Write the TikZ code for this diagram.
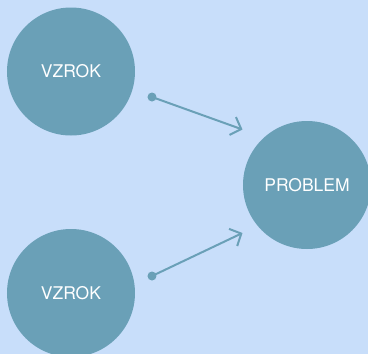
\documentclass[tikz,border=0pt]{standalone}
\usepackage{fontspec}
\setmainfont{TeX Gyre Heros}
\usetikzlibrary{arrows.meta}
\definecolor{bgc}{RGB}{200,222,250}
\definecolor{circc}{RGB}{106,160,183}
\tikzset{
  bubble/.style={circle, fill=circc, draw=none, minimum size=128pt, inner sep=0pt, text=white, font=\fontsize{17.5}{19}\selectfont},
  link/.style={draw=circc, line width=2pt, -{Straight Barb[length=9pt,width=19pt,line width=2pt]}},
  dotc/.style={fill=circc}
}
\begin{document}
\begin{tikzpicture}[x=1pt,y=-1pt]
\fill[bgc] (0,0) rectangle (368,354);
\useasboundingbox (0,0) rectangle (368,354);
\begin{scope}
\clip (0,0) rectangle (368,354);
\node[bubble] (c1) at (71,71.5) {VZROK};
\node[bubble] (c2) at (71,293) {VZROK};
\node[bubble] (p) at (307,185) {PROBLEM};
\end{scope}
\coordinate (s1) at (152,97);
\coordinate (e1) at (242.5,129.5);
\coordinate (s2) at (152,276);
\coordinate (e2) at (242.5,233);
\draw[link] (s1) -- (e1);
\draw[link] (s2) -- (e2);
\fill[dotc] (s1) circle (4.5);
\fill[dotc] (s2) circle (4.5);
\end{tikzpicture}
\end{document}
